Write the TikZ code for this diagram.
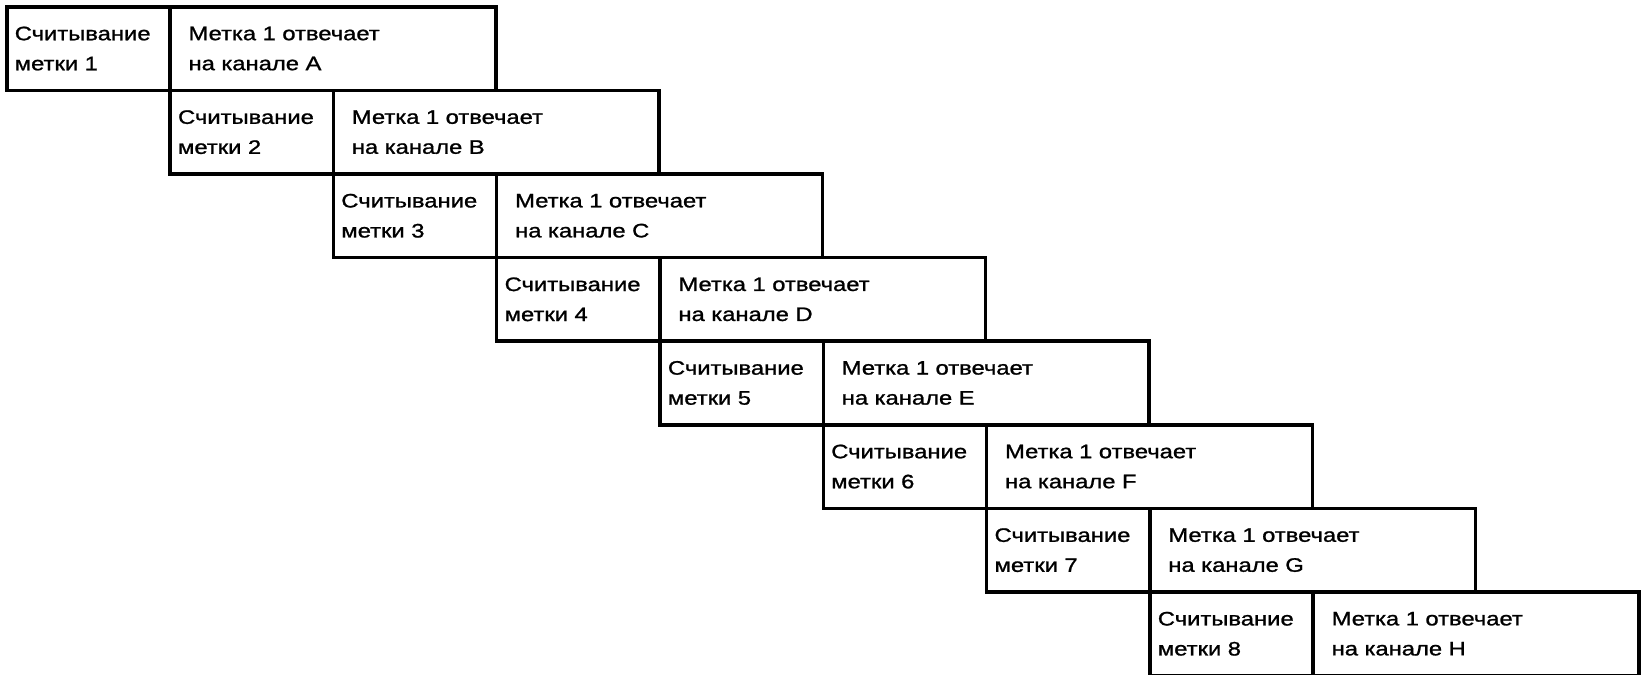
\documentclass[tikz,border=0pt]{standalone}
\usepackage{fontspec}
\setmainfont[FakeStretch=1.22,FakeBold=1.2]{Liberation Sans}
\begin{document}
\begin{tikzpicture}[x=1pt,y=1pt,
  cell/.style={draw=black, line width=3.5pt, rectangle, anchor=north west,
    minimum height=83.6pt, inner ysep=0pt, align=left,
    font=\fontsize{19.5}{30}\selectfont},
  sbox/.style={cell, inner xsep=8pt, text width=147.3pt},
  lbox/.style={cell, inner xsep=18.5pt, text width=288.7pt}]
\useasboundingbox (0,0) rectangle (1642,-675);
\foreach \i/\ch in {1/A,2/B,3/C,4/D,5/E,6/F,7/G,8/H}{
  \pgfmathsetmacro{\X}{5+163.3*(\i-1)}
  \pgfmathsetmacro{\Y}{-(5+83.6*(\i-1))}
  \node[lbox] (l\i) at (\X+163.3,\Y) {Метка 1 отвечает\\на канале \ch};
  \node[sbox] (s\i) at (\X,\Y) {Считывание\\метки \i};
}
\end{tikzpicture}
\end{document}
